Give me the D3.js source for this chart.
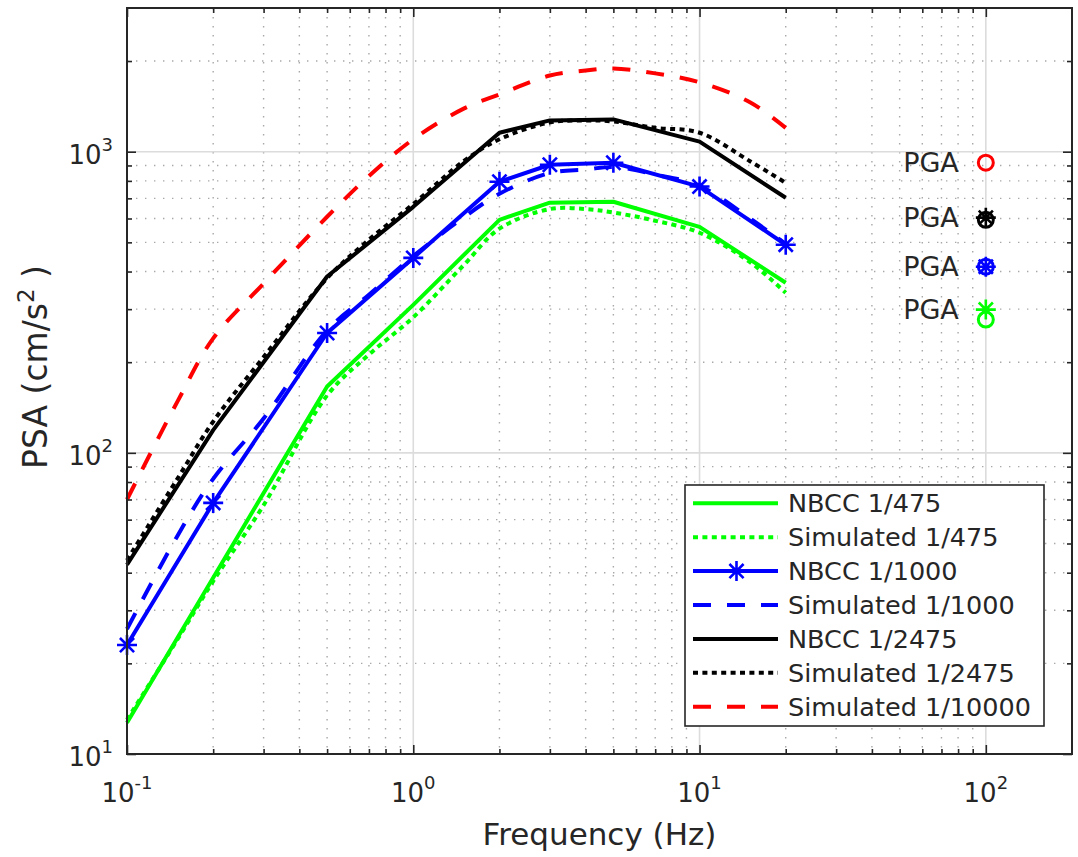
<!DOCTYPE html>
<html>
<head>
<meta charset="utf-8">
<script src="https://cdn.jsdelivr.net/npm/d3@7"></script>
<style>
  html, body { margin: 0; padding: 0; background: #fff; }
  svg { display: block; font-family: "DejaVu Sans", sans-serif; }
</style>
</head>
<body>
<script>
"use strict";

// NBCC uniform hazard spectra (design points)
const nbccFreq = [0.1, 0.2, 0.5, 1, 2, 3, 5, 10, 20];
const nbcc475 = [12.7, 38.5, 166, 310, 594, 677, 682, 563, 367];
const nbcc1000 = [23.0, 68.2, 250, 444, 795, 905, 919, 766, 491];
const nbcc2475 = [42.5, 119, 385, 656, 1156, 1270, 1280, 1080, 703];

// simulated hazard spectra
const simFreq = [0.1, 0.15, 0.2, 0.3, 0.5, 0.7, 1, 1.5, 2, 3, 4, 5, 7, 10, 15, 20];
const sim475 = [13, 24, 37.5, 67, 155, 212, 282, 420, 555, 645, 645, 628, 590, 538, 430, 340];
const sim1000 = [26, 53, 82, 130, 255, 335, 450, 605, 725, 850, 872, 890, 840, 770, 600, 494];
const sim2475 = [44, 82, 127, 208, 380, 510, 670, 930, 1100, 1250, 1270, 1260, 1200, 1156, 930, 788];
const sim10000 = [70, 148, 240, 365, 608, 830, 1100, 1390, 1550, 1790, 1860, 1890, 1820, 1700, 1460, 1200];

// PGA plotted at 100 Hz
const pgaFreq = 100;
const pgaNbcc = {black: 604, blue: 415, green: 299};
const pgaSim = {red: 919, black: 594, blue: 415, green: 277};

const xMajor = [0.1, 1, 10, 100];
const xExp = ["-1", "0", "1", "2"];
const yMajor = [10, 100, 1000];
const yExp = ["1", "2", "3"];

const legendNames = ["NBCC 1/475", "Simulated 1/475", "NBCC 1/1000", "Simulated 1/1000",
                     "NBCC 1/2475", "Simulated 1/2475", "Simulated 1/10000"];

const GREEN = "#00ff00", BLUE = "#0000ff", BLACK = "#000000", RED = "#ff0000";
const INK = "#262626";
const DOT = "5 4.4", DASH = "18 16";

const series = [
  {name: legendNames[0], f: nbccFreq, v: nbcc475, color: GREEN, dash: null, smooth: false},
  {name: legendNames[1], f: simFreq, v: sim475, color: GREEN, dash: DOT, smooth: true},
  {name: legendNames[2], f: nbccFreq, v: nbcc1000, color: BLUE, dash: null, smooth: false, star: true},
  {name: legendNames[3], f: simFreq, v: sim1000, color: BLUE, dash: DASH, smooth: true},
  {name: legendNames[4], f: nbccFreq, v: nbcc2475, color: BLACK, dash: null, smooth: false},
  {name: legendNames[5], f: simFreq, v: sim2475, color: BLACK, dash: DOT, smooth: true},
  {name: legendNames[6], f: simFreq, v: sim10000, color: RED, dash: DASH, smooth: true}
];

const W = 1078, H = 857;
const margin = {top: 8, right: 6, bottom: 103, left: 127};
const width = W - margin.left - margin.right;
const height = H - margin.top - margin.bottom;

const svg = d3.select("body").append("svg")
  .attr("width", W).attr("height", H)
  .attr("viewBox", `0 0 ${W} ${H}`);

const g = svg.append("g").attr("transform", `translate(${margin.left},${margin.top})`);

const x = d3.scaleLog().domain([0.1, 200]).range([0, width]);
const y = d3.scaleLog().domain([10, 3000]).range([height, 0]);

const minors = (decades, lo, hi) => {
  const out = [];
  decades.forEach(d => { for (let k = 2; k <= 9; k++) { const v = k * d; if (v > lo && v < hi) out.push(v); } });
  return out;
};
const xMinor = minors(xMajor, 0.1, 200);
const yMinor = minors(yMajor, 10, 3000);

// grid
const grid = g.append("g");
grid.selectAll(".vmin").data(xMinor).enter().append("line")
  .attr("x1", d => x(d)).attr("x2", d => x(d)).attr("y1", 0).attr("y2", height)
  .attr("stroke", "#a8a8a8").attr("stroke-width", 1.4).attr("stroke-dasharray", "1.4 7.6");
grid.selectAll(".hmin").data(yMinor).enter().append("line")
  .attr("y1", d => y(d)).attr("y2", d => y(d)).attr("x1", 0).attr("x2", width)
  .attr("stroke", "#a8a8a8").attr("stroke-width", 1.4).attr("stroke-dasharray", "1.4 7.6");
grid.selectAll(".vmaj").data(xMajor).enter().append("line")
  .attr("x1", d => x(d)).attr("x2", d => x(d)).attr("y1", 0).attr("y2", height)
  .attr("stroke", "#dcdcdc").attr("stroke-width", 1.6);
grid.selectAll(".hmaj").data(yMajor).enter().append("line")
  .attr("y1", d => y(d)).attr("y2", d => y(d)).attr("x1", 0).attr("x2", width)
  .attr("stroke", "#dcdcdc").attr("stroke-width", 1.6);

// curves
const lineLin = d3.line().x(d => x(d[0])).y(d => y(d[1]));
const lineSmooth = d3.line().x(d => x(d[0])).y(d => y(d[1])).curve(d3.curveCatmullRom.alpha(0.5));

const starPath = r => {
  const a = r * 0.7071;
  return `M${-r},0L${r},0M0,${-r}L0,${r}M${-a},${-a}L${a},${a}M${-a},${a}L${a},${-a}`;
};

series.forEach(s => {
  const pts = d3.zip(s.f, s.v);
  g.append("path")
    .attr("d", (s.smooth ? lineSmooth : lineLin)(pts))
    .attr("fill", "none")
    .attr("stroke", s.color)
    .attr("stroke-width", 4)
    .attr("stroke-dasharray", s.dash)
    .attr("stroke-linejoin", "round");
  if (s.star) {
    g.selectAll(null).data(pts).enter().append("path")
      .attr("transform", d => `translate(${x(d[0])},${y(d[1])})`)
      .attr("d", starPath(10))
      .attr("fill", "none").attr("stroke", s.color).attr("stroke-width", 2.6);
  }
});

// PGA markers
const colorOf = {red: RED, black: BLACK, blue: BLUE, green: GREEN};
Object.keys(pgaSim).forEach(k => {
  g.append("circle").attr("cx", x(pgaFreq)).attr("cy", y(pgaSim[k])).attr("r", 7.5)
    .attr("fill", "none").attr("stroke", colorOf[k]).attr("stroke-width", 3);
});
Object.keys(pgaNbcc).forEach(k => {
  g.append("path").attr("transform", `translate(${x(pgaFreq)},${y(pgaNbcc[k])})`)
    .attr("d", starPath(10)).attr("fill", "none").attr("stroke", colorOf[k]).attr("stroke-width", 2.6);
});
const pgaLabelVals = [pgaSim.red, pgaNbcc.black, pgaNbcc.blue, pgaNbcc.green];
g.selectAll(".pga").data(pgaLabelVals).enter().append("text")
  .attr("x", x(pgaFreq) - 27).attr("y", d => y(d))
  .attr("dy", "0.36em").attr("text-anchor", "end")
  .attr("font-size", 27).attr("fill", INK).text("PGA");

// axes
const styleAxis = sel => {
  sel.select(".domain").remove();
  sel.selectAll(".tick line").attr("stroke", INK).attr("stroke-width", 1.6);
  sel.selectAll(".tick text").remove();
};
g.append("g").attr("transform", `translate(0,${height})`)
  .call(d3.axisBottom(x).tickValues(xMajor).tickSize(-9)).call(styleAxis);
g.append("g").attr("transform", `translate(0,${height})`)
  .call(d3.axisBottom(x).tickValues(xMinor).tickSize(-5)).call(styleAxis);
g.append("g").call(d3.axisTop(x).tickValues(xMajor).tickSize(-9)).call(styleAxis);
g.append("g").call(d3.axisTop(x).tickValues(xMinor).tickSize(-5)).call(styleAxis);
g.append("g").call(d3.axisLeft(y).tickValues(yMajor).tickSize(-9)).call(styleAxis);
g.append("g").call(d3.axisLeft(y).tickValues(yMinor).tickSize(-5)).call(styleAxis);
g.append("g").attr("transform", `translate(${width},0)`)
  .call(d3.axisRight(y).tickValues(yMajor).tickSize(-9)).call(styleAxis);
g.append("g").attr("transform", `translate(${width},0)`)
  .call(d3.axisRight(y).tickValues(yMinor).tickSize(-5)).call(styleAxis);

g.append("rect").attr("width", width).attr("height", height)
  .attr("fill", "none").attr("stroke", INK).attr("stroke-width", 2);

// tick labels with exponents
xMajor.forEach((v, i) => {
  const t = g.append("text").attr("x", x(v)).attr("y", height + 48)
    .attr("text-anchor", "middle").attr("fill", INK).attr("font-size", 26);
  t.append("tspan").text("10");
  t.append("tspan").attr("dy", -13).attr("font-size", 18).text(xExp[i]);
});
yMajor.forEach((v, i) => {
  const t = g.append("text").attr("x", -14).attr("y", y(v) + 12)
    .attr("text-anchor", "end").attr("fill", INK).attr("font-size", 26);
  t.append("tspan").text("10");
  t.append("tspan").attr("dy", -13).attr("font-size", 18).text(yExp[i]);
});

// axis labels
svg.append("text").attr("x", margin.left + width / 2).attr("y", 845)
  .attr("text-anchor", "middle").attr("fill", INK).attr("font-size", 31)
  .text("Frequency (Hz)");
const yl = svg.append("text")
  .attr("transform", "translate(47,367) rotate(-90)")
  .attr("text-anchor", "middle").attr("fill", INK).attr("font-size", 33);
yl.append("tspan").text("PSA (cm/s");
yl.append("tspan").attr("dy", -13).attr("font-size", 23).text("2");
yl.append("tspan").attr("dy", 13).text(" )");

// legend
const lg = svg.append("g").attr("transform", "translate(685,485)");
lg.append("rect").attr("width", 359).attr("height", 241)
  .attr("fill", "#fff").attr("stroke", INK).attr("stroke-width", 1.6);
series.forEach((s, i) => {
  const ry = 18.3 + i * 33.9;
  lg.append("line").attr("x1", 8).attr("x2", 93).attr("y1", ry).attr("y2", ry)
    .attr("stroke", s.color).attr("stroke-width", 4).attr("stroke-dasharray", s.dash);
  if (s.star) {
    lg.append("path").attr("transform", `translate(51.5,${ry})`).attr("d", starPath(10))
      .attr("fill", "none").attr("stroke", s.color).attr("stroke-width", 2.6);
  }
  lg.append("text").attr("x", 103).attr("y", ry).attr("dy", "0.36em")
    .attr("font-size", 25.5).attr("fill", INK).text(s.name);
});
</script>
</body>
</html>
